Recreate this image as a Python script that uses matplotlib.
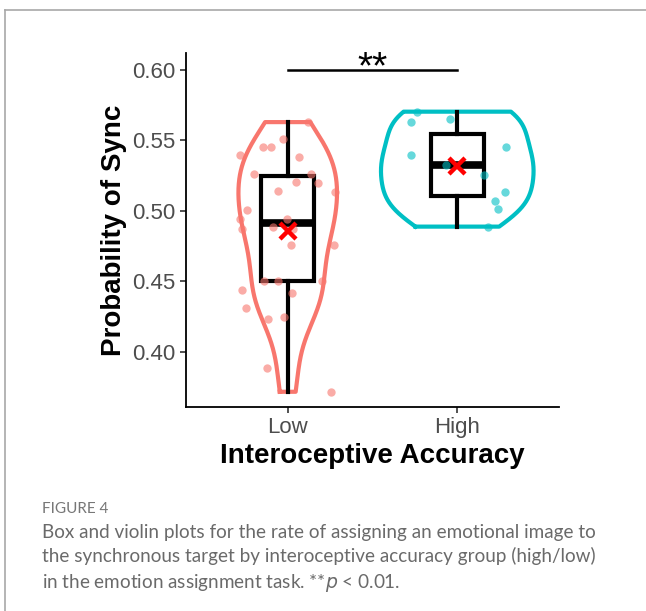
import numpy as np
import matplotlib
matplotlib.use("Agg")
import matplotlib.pyplot as plt
from matplotlib.lines import Line2D

plt.rcParams['font.family'] = ['Liberation Sans', 'DejaVu Sans']

# group data
groups = ["Low", "High"]
low_vals = [0.5630, 0.5508, 0.5452, 0.5452, 0.5395, 0.5383, 0.5262, 0.5262, 0.5206, 0.5200,
            0.5144, 0.5137, 0.5007, 0.4945, 0.4941, 0.4884, 0.4870, 0.4870, 0.4759, 0.4759,
            0.4506, 0.4506, 0.4506, 0.4438, 0.4421, 0.4310, 0.4246, 0.4236, 0.3884, 0.3718]
low_jit = [0.118, -0.028, -0.146, -0.101, -0.280, 0.067, -0.201, 0.136, 0.047, 0.176,
           -0.057, 0.280, -0.241, -0.002, -0.284, -0.087, -0.268, 0.031, 0.018, 0.270,
           -0.142, -0.057, 0.205, -0.268, 0.025, -0.249, -0.022, -0.117, -0.124, 0.254]
high_vals = [0.5704, 0.5650, 0.5633, 0.5452, 0.5395, 0.5324, 0.5255, 0.5135, 0.5073, 0.5012, 0.4889]
high_jit = [-0.238, -0.041, -0.272, 0.290, -0.272, -0.065, 0.156, 0.284, 0.221, 0.241, 0.182]
colors = ["#F8766D", "#00BFC4"]
yticks = [0.40, 0.45, 0.50, 0.55, 0.60]
sig_y = 0.600
caption_head = "FIGURE 4"
caption = ("Box and violin plots for the rate of assigning an emotional image to\n"
           "the synchronous target by interoceptive accuracy group (high/low)\n"
           "in the emotion assignment task. **$p$ < 0.01.")

data = [np.array(low_vals), np.array(high_vals)]
jits = [np.array(low_jit), np.array(high_jit)]


def kde(v):
    # gaussian kde, bw.nrd0 like R, trimmed to data range
    n = len(v)
    iqr = np.percentile(v, 75) - np.percentile(v, 25)
    bw = 0.9 * min(np.std(v, ddof=1), iqr / 1.34) * n ** -0.2
    ys = np.linspace(v.min(), v.max(), 512)
    d = np.exp(-0.5 * ((ys[:, None] - v[None, :]) / bw) ** 2).sum(axis=1) / (n * bw * np.sqrt(2 * np.pi))
    return ys, d


fig = plt.figure(figsize=(6.46, 6.11), dpi=100)
ax = fig.add_axes([186 / 646, 1 - 407 / 611, (559 - 186) / 646, (407 - 53) / 611])

dens = [kde(v) for v in data]
dmax = max(d.max() for _, d in dens)
for i, (ys, d) in enumerate(dens):
    w = 0.45 * d / dmax
    xs = np.concatenate([i - w, (i + w)[::-1], [i - w[0]]])
    yy = np.concatenate([ys, ys[::-1], [ys[0]]])
    ax.plot(xs, yy, color=colors[i], lw=3, solid_joinstyle="round", zorder=1)

bp = ax.boxplot(data, positions=[0, 1], widths=0.31, whis=1.5, showfliers=False,
                patch_artist=True, zorder=2,
                boxprops=dict(facecolor="none", edgecolor="black", linewidth=3),
                whiskerprops=dict(color="black", linewidth=3),
                capprops=dict(linewidth=0),
                medianprops=dict(color="black", linewidth=5.5, solid_capstyle="butt"))

for i in range(2):
    ax.scatter(i + jits[i], data[i], s=36, color=colors[i], alpha=0.6, lw=0, zorder=3)
    ax.plot(i, data[i].mean(), marker="x", color="red", ms=11, mew=3.2, zorder=4)

ax.plot([0, 1], [sig_y, sig_y], color="black", lw=1.8, clip_on=False)
ax.text(0.5, sig_y - 0.0060, "**", ha="center", va="baseline", fontsize=28,
        color="black", clip_on=False)

ax.set_xlim(-0.6, 1.6)
ax.set_ylim(0.361, 0.612)
ax.set_xticks([0, 1])
ax.set_xticklabels(groups)
ax.set_yticks(yticks)
ax.set_yticklabels([f"{t:.2f}" for t in yticks])
ax.tick_params(labelsize=16, labelcolor="#4D4D4D", color="#333333", length=4, width=1.2)
for s in ["top", "right"]:
    ax.spines[s].set_visible(False)
for s in ["left", "bottom"]:
    ax.spines[s].set_linewidth(1.3)
ax.set_xlabel("Interoceptive Accuracy", fontsize=20, fontweight="bold", labelpad=3)
ax.set_ylabel("Probability of Sync", fontsize=20, fontweight="bold", labelpad=4)

# page frame and caption
fig.add_artist(Line2D([5 / 646, 1], [1 - 9.5 / 611] * 2, color="#a8a8a8", lw=1.2))
fig.add_artist(Line2D([5 / 646] * 2, [0, 1 - 9.5 / 611], color="#a8a8a8", lw=1.2))
fig.text(42 / 646, 1 - 509 / 611, caption_head, fontsize=11, color="#777777",
         family=["Lato", "DejaVu Sans"], va="center")
fig.text(42 / 646, 1 - 524 / 611, caption, fontsize=13.6, color="#6a6a6a",
         family=["Lato", "DejaVu Sans"], va="top", linespacing=1.42)

fig.savefig("out.png", dpi=100)
